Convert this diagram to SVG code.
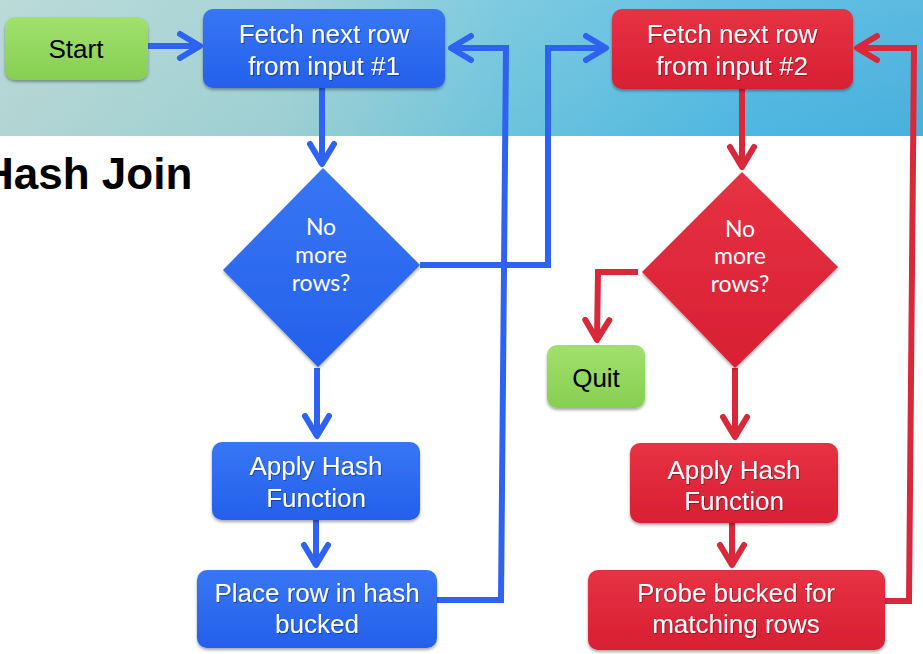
<svg xmlns="http://www.w3.org/2000/svg" width="923" height="654" viewBox="0 0 923 654">
<defs>
<linearGradient id="band" x1="0" y1="0" x2="1" y2="0">
<stop offset="0" stop-color="#b2d5d3"/>
<stop offset="0.3" stop-color="#9dcfd2"/>
<stop offset="0.55" stop-color="#6cc3dc"/>
<stop offset="0.8" stop-color="#4fb7e0"/>
<stop offset="1" stop-color="#47b0dc"/>
</linearGradient>
<linearGradient id="bandV" x1="0" y1="0" x2="0" y2="1">
<stop offset="0" stop-color="#ffffff" stop-opacity="0.12"/>
<stop offset="1" stop-color="#ffffff" stop-opacity="0"/>
</linearGradient>
<linearGradient id="gBlue" x1="0" y1="0" x2="0" y2="1">
<stop offset="0" stop-color="#3776f5"/>
<stop offset="1" stop-color="#2560ea"/>
</linearGradient>
<linearGradient id="gRed" x1="0" y1="0" x2="0" y2="1">
<stop offset="0" stop-color="#e73244"/>
<stop offset="1" stop-color="#d81f33"/>
</linearGradient>
<linearGradient id="gGreen" x1="0" y1="0" x2="0" y2="1">
<stop offset="0" stop-color="#a2e06e"/>
<stop offset="1" stop-color="#86cf52"/>
</linearGradient>
<filter id="sh" x="-10%" y="-10%" width="120%" height="130%">
<feDropShadow dx="0" dy="2" stdDeviation="1.5" flood-color="#000" flood-opacity="0.35"/>
</filter>
<filter id="tsh" x="-10%" y="-20%" width="120%" height="140%">
<feDropShadow dx="1" dy="1" stdDeviation="0.6" flood-color="#000" flood-opacity="0.35"/>
</filter>
<marker id="ab" markerUnits="userSpaceOnUse" markerWidth="40" markerHeight="40" viewBox="-30 -20 40 40" refX="0" refY="0" orient="auto">
<path d="M-20,-12 L0,0 L-20,12" fill="none" stroke="#2e63f2" stroke-width="6" stroke-linecap="round" stroke-linejoin="round"/>
</marker>
<marker id="ar" markerUnits="userSpaceOnUse" markerWidth="40" markerHeight="40" viewBox="-30 -20 40 40" refX="0" refY="0" orient="auto">
<path d="M-20,-12 L0,0 L-20,12" fill="none" stroke="#d8283a" stroke-width="6" stroke-linecap="round" stroke-linejoin="round"/>
</marker>
</defs>
<style>
.box{stroke:none;filter:url(#sh)}
.blue{fill:url(#gBlue)}
.red{fill:url(#gRed)}
.green{fill:url(#gGreen)}
.t{font-family:"Liberation Sans",Arial,sans-serif;font-size:26px;text-anchor:middle}
.w{fill:#ffffff;filter:url(#tsh)}
.k{fill:#000000}
.d{font-family:Lato,"Open Sans",sans-serif;font-size:23px;fill:#ffffff;text-anchor:middle}
.cb{fill:none;stroke:#2e63f2;stroke-width:6;stroke-linejoin:miter}
.cr{fill:none;stroke:#d8283a;stroke-width:6;stroke-linejoin:miter}
.title{font-family:"Liberation Sans",Arial,sans-serif;font-size:44px;font-weight:bold;fill:#000}
</style>
<rect x="0" y="0" width="923" height="654" fill="#ffffff"/>
<rect x="0" y="0" width="923" height="136" fill="url(#band)"/>
<rect x="0" y="0" width="923" height="136" fill="url(#bandV)"/>
<text class="title" x="-18" y="189">Hash Join</text>

<g id="connectors">
<path class="cb" d="M148,46 L200,46" marker-end="url(#ab)"/>
<path class="cb" d="M322,88 L322,164" marker-end="url(#ab)"/>
<path class="cb" d="M420,265 L548,265 L548,48 L606,48" marker-end="url(#ab)"/>
<path class="cb" d="M317,368 L317,436" marker-end="url(#ab)"/>
<path class="cb" d="M316,520 L316,565" marker-end="url(#ab)"/>
<path class="cb" d="M437,600 L501,600 L506,48 L451,48" marker-end="url(#ab)"/>
<path class="cr" d="M742,89 L742,167" marker-end="url(#ar)"/>
<path class="cr" d="M638,272 L598,272 L597,340" marker-end="url(#ar)"/>
<path class="cr" d="M735,368 L735,437" marker-end="url(#ar)"/>
<path class="cr" d="M732,523 L732,565" marker-end="url(#ar)"/>
<path class="cr" d="M885,601 L909,601 L914,48 L857,48" marker-end="url(#ar)"/>
</g>

<g id="start">
<rect class="box green" x="5" y="17" width="143" height="63" rx="10"/>
<text class="t k" x="76" y="58">Start</text>
</g>
<g id="fetch1">
<rect class="box blue" x="203" y="9" width="242" height="79" rx="10"/>
<text class="t w" x="324" y="43">Fetch next row</text>
<text class="t w" x="324" y="75">from input #1</text>
</g>
<g id="nomore1">
<polygon class="box blue" points="323,168 420,265 318,367 223,270"/>
<text class="d" x="321" y="235">No</text>
<text class="d" x="321" y="263">more</text>
<text class="d" x="321" y="291">rows?</text>
</g>
<g id="apply1">
<rect class="box blue" x="212" y="442" width="208" height="78" rx="10"/>
<text class="t w" x="316" y="475">Apply Hash</text>
<text class="t w" x="316" y="507">Function</text>
</g>
<g id="place">
<rect class="box blue" x="197" y="570" width="240" height="78" rx="10"/>
<text class="t w" x="317" y="602">Place row in hash</text>
<text class="t w" x="317" y="633">bucked</text>
</g>
<g id="fetch2">
<rect class="box red" x="612" y="9" width="241" height="80" rx="10"/>
<text class="t w" x="732" y="43">Fetch next row</text>
<text class="t w" x="732" y="75">from input #2</text>
</g>
<g id="nomore2">
<polygon class="box red" points="742,172 838,267 735,368 642,272"/>
<text class="d" x="740" y="237">No</text>
<text class="d" x="740" y="264">more</text>
<text class="d" x="740" y="292">rows?</text>
</g>
<g id="quit">
<rect class="box green" x="547" y="345" width="98" height="63" rx="10"/>
<text class="t k" x="596" y="387">Quit</text>
</g>
<g id="apply2">
<rect class="box red" x="630" y="443" width="208" height="80" rx="10"/>
<text class="t w" x="734" y="479">Apply Hash</text>
<text class="t w" x="734" y="510">Function</text>
</g>
<g id="probe">
<rect class="box red" x="588" y="570" width="297" height="80" rx="10"/>
<text class="t w" x="736" y="602">Probe bucked for</text>
<text class="t w" x="736" y="633">matching rows</text>
</g>
</svg>
